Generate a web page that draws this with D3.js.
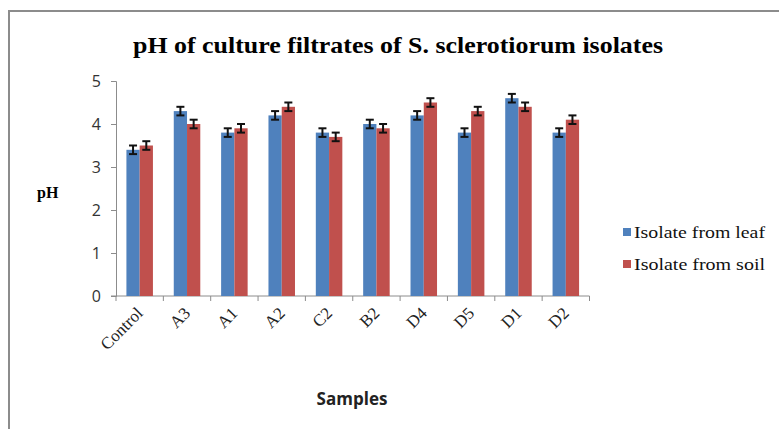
<!DOCTYPE html>
<html>
<head>
<meta charset="utf-8">
<script src="https://cdn.jsdelivr.net/npm/d3@7"></script>
<style>
body { margin: 0; background: #fff; }
</style>
</head>
<body>
<div id="chart"></div>
<script>
var samples = ["Control", "A3", "A1", "A2", "C2", "B2", "D4", "D5", "D1", "D2"];
var seriesNames = ["Isolate from leaf", "Isolate from soil"];
var leafValues = [3.4, 4.3, 3.8, 4.2, 3.8, 4.0, 4.2, 3.8, 4.6, 3.8];
var soilValues = [3.5, 4.0, 3.9, 4.4, 3.7, 3.9, 4.5, 4.3, 4.4, 4.1];
var leafErrors = [0.1, 0.1, 0.1, 0.1, 0.1, 0.1, 0.1, 0.1, 0.1, 0.1];
var soilErrors = [0.1, 0.1, 0.1, 0.1, 0.1, 0.1, 0.1, 0.1, 0.1, 0.1];
var yTicks = [0, 1, 2, 3, 4, 5];
var colors = ["#4F81BD", "#C0504D"];

var width = 779, height = 429;
var plot = {left: 116, right: 589.5, top: 81, bottom: 296};

var svg = d3.select("#chart")
    .append("svg")
    .attr("width", width)
    .attr("height", height);

// outer frame (cut off at right and bottom like the original)
svg.append("path")
    .attr("d", "M9,440 L9,11 L790,11")
    .attr("fill", "none")
    .attr("stroke", "#8c8c8c")
    .attr("stroke-width", 2);

svg.append("text")
    .attr("x", 133)
    .attr("y", 53)
    .attr("textLength", 530)
    .attr("lengthAdjust", "spacingAndGlyphs")
    .style("font-family", "'Liberation Serif', 'Times New Roman', serif")
    .style("font-weight", "bold")
    .style("font-size", "23px")
    .text("pH of culture filtrates of S.  sclerotiorum isolates");

var x = d3.scaleBand()
    .domain(samples)
    .range([plot.left, plot.right])
    .paddingInner(0.44)
    .paddingOuter(0.22);

var xSub = d3.scaleBand()
    .domain([0, 1])
    .range([0, x.bandwidth()]);

var y = d3.scaleLinear()
    .domain([0, 5])
    .range([plot.bottom, plot.top]);

// y axis
var yAxis = svg.append("g")
    .attr("transform", "translate(" + plot.left + ",0)")
    .call(d3.axisLeft(y).tickValues(yTicks).tickSize(5).tickPadding(10).tickFormat(d3.format("d")));
yAxis.selectAll("line, path").attr("stroke", "#8c8c8c");
yAxis.selectAll("text")
    .style("font-family", "'Open Sans', 'Liberation Sans', sans-serif")
    .style("font-size", "16px")
    .attr("fill", "#333");

// x axis with ticks on category boundaries
var step = x.step();
var boundaries = d3.range(samples.length + 1).map(function(i) { return plot.left + i * step; });
var xAxis = svg.append("g");
xAxis.append("line")
    .attr("x1", plot.left - 5).attr("x2", plot.right)
    .attr("y1", plot.bottom).attr("y2", plot.bottom)
    .attr("stroke", "#8c8c8c");
xAxis.selectAll(".xt")
    .data(boundaries)
    .enter().append("line")
    .attr("x1", function(d) { return d; }).attr("x2", function(d) { return d; })
    .attr("y1", plot.bottom).attr("y2", plot.bottom + 5)
    .attr("stroke", "#8c8c8c");

xAxis.selectAll(".xl")
    .data(samples)
    .enter().append("text")
    .attr("transform", function(d) {
        return "translate(" + (x(d) + x.bandwidth() / 2) + "," + (plot.bottom + 14) + ") rotate(-45)";
    })
    .attr("text-anchor", "end")
    .attr("dy", "0.35em")
    .style("font-family", "'Liberation Serif', 'Times New Roman', serif")
    .style("font-size", "17px")
    .attr("fill", "#222")
    .text(function(d) { return d; });

// bars
var series = [leafValues, soilValues];
var errors = [leafErrors, soilErrors];
series.forEach(function(vals, s) {
    var g = svg.append("g");
    g.selectAll("rect")
        .data(vals)
        .enter().append("rect")
        .attr("x", function(d, i) { return x(samples[i]) + xSub(s); })
        .attr("y", function(d) { return y(d); })
        .attr("width", xSub.bandwidth())
        .attr("height", function(d) { return y(0) - y(d); })
        .attr("fill", colors[s]);

    var eb = svg.append("g")
        .attr("stroke", "#111")
        .attr("stroke-width", 2);
    vals.forEach(function(d, i) {
        var cx = x(samples[i]) + xSub(s) + xSub.bandwidth() / 2;
        var e = errors[s][i];
        eb.append("line").attr("x1", cx).attr("x2", cx).attr("y1", y(d + e)).attr("y2", y(d - e));
        eb.append("line").attr("x1", cx - 4).attr("x2", cx + 4).attr("y1", y(d + e)).attr("y2", y(d + e));
        eb.append("line").attr("x1", cx - 4).attr("x2", cx + 4).attr("y1", y(d - e)).attr("y2", y(d - e));
    });
});

// axis titles
svg.append("text")
    .attr("x", 37)
    .attr("y", 198)
    .style("font-family", "'Liberation Serif', 'Times New Roman', serif")
    .style("font-weight", "bold")
    .style("font-size", "16px")
    .text("pH");

svg.append("text")
    .attr("x", 352)
    .attr("y", 405)
    .attr("text-anchor", "middle")
    .style("font-family", "'Open Sans', 'Liberation Sans', sans-serif")
    .style("font-weight", "bold")
    .style("font-size", "17px")
    .attr("fill", "#222")
    .text("Samples");

// legend
var legend = svg.append("g");
seriesNames.forEach(function(name, i) {
    var ly = 233 + i * 32;
    legend.append("rect")
        .attr("x", 623).attr("y", ly - 5)
        .attr("width", 8).attr("height", 8)
        .attr("fill", colors[i]);
    legend.append("text")
        .attr("x", 634).attr("y", ly + 5)
        .attr("textLength", 131)
        .attr("lengthAdjust", "spacingAndGlyphs")
        .style("font-family", "'Liberation Serif', 'Times New Roman', serif")
        .style("font-size", "17px")
        .attr("fill", "#111")
        .text(name);
});
</script>
</body>
</html>
